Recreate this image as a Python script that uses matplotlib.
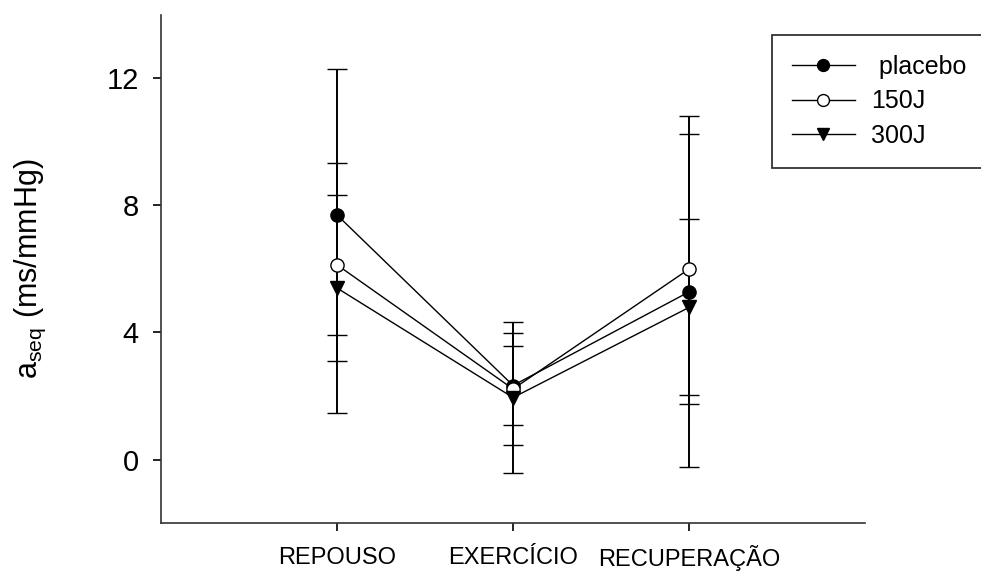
import numpy as np
import matplotlib.pyplot as plt

plt.rcParams['font.family'] = ['Liberation Sans', 'DejaVu Sans']

phases = ['REPOUSO', 'EXERCÍCIO', 'RECUPERAÇÃO']
labels = [' placebo', '150J', '300J']

placebo = [7.70, 2.33, 5.28]
placebo_err = [4.59, 1.23, 5.53]
j150 = [6.13, 2.22, 6.00]
j150_err = [2.21, 1.76, 4.24]
j300 = [5.40, 1.95, 4.79]
j300_err = [3.94, 2.37, 2.77]

x = np.arange(1, len(phases) + 1)

fig = plt.figure(figsize=(9.81, 5.71), dpi=100)
ax = fig.add_axes([0.164, 0.084, 0.718, 0.89])

styles = [dict(marker='o', mfc='black', mec='black'),
          dict(marker='o', mfc='white', mec='black'),
          dict(marker='v', mfc='black', mec='black')]

for y, e, lab, st in zip([placebo, j150, j300], [placebo_err, j150_err, j300_err], labels, styles):
    ax.errorbar(x, y, yerr=e, color='black', lw=1.0, ms=9.5, mew=1.0,
                elinewidth=1.4, capsize=7, capthick=1.4, label=lab, **st)

ax.set_xlim(0, 4)
ax.set_ylim(-2, 14)
ax.set_xticks(x)
ax.set_xticklabels(phases, fontsize=17, va='center')
ax.set_yticks([0, 4, 8, 12])
ax.tick_params(axis='y', labelsize=21, direction='out', length=6, width=1.2, pad=10)
ax.tick_params(axis='x', direction='out', length=6, width=1.2, pad=19)
for s in ['top', 'right']:
    ax.spines[s].set_visible(False)
for s in ['left', 'bottom']:
    ax.spines[s].set_linewidth(1.2)
    ax.spines[s].set_color('#333333')

ax.set_ylabel(r'$\mathregular{a_{seq}}$ (ms/mmHg)', fontsize=22, labelpad=42)

handles, labs = ax.get_legend_handles_labels()
handles = [h[0] for h in handles]
leg = fig.legend(handles, labs, loc='upper left', bbox_to_anchor=(772 / 981, 1 - 35 / 571),
                 borderaxespad=0, fontsize=18, frameon=True, fancybox=False, edgecolor='black',
                 handlelength=2.5, handletextpad=0.68, labelspacing=0.42, borderpad=0.8,
                 markerscale=0.9)
leg.get_frame().set_linewidth(1.3)

fig.savefig('out.png', dpi=100)
